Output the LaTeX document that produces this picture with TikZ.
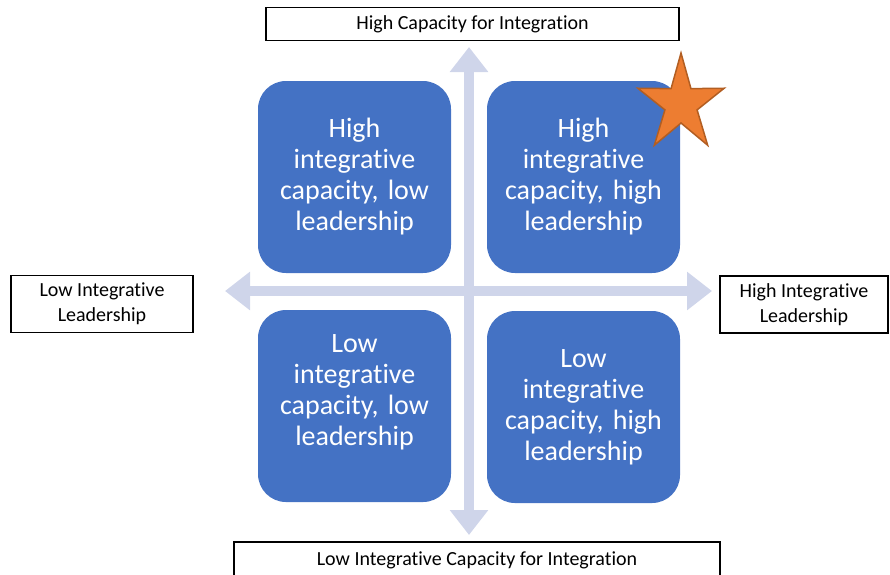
\documentclass[tikz,border=0pt]{standalone}
\usepackage{fontspec}
\setmainfont{Carlito}[Ligatures=NoCommon]
\usetikzlibrary{arrows.meta}

\definecolor{quadblue}{HTML}{4472C4}
\definecolor{crossgray}{HTML}{CFD5EA}
\definecolor{starorange}{HTML}{ED7D31}
\definecolor{stardark}{HTML}{B25E22}

\tikzset{
  quad/.style={fill=quadblue, rounded corners=28pt, minimum width=193pt,
    minimum height=192pt, inner sep=0pt, text width=180pt, align=center,
    text=white, font=\fontsize{28}{31}\selectfont},
  axislabel/.style={draw=black, line width=1.6pt, inner sep=0pt, align=center,
    font=\fontsize{20}{25}\selectfont},
  axisarrow/.style={crossgray, line width=10pt,
    {Triangle[width=37pt,length=25pt]}-{Triangle[width=37pt,length=25pt]}}
}

\begin{document}
\begin{tikzpicture}[x=1pt,y=-1pt]
\useasboundingbox (0,0) rectangle (890,574);
\clip (0,0) rectangle (890,574);

% ends of the two axes
\coordinate (up) at (469,47);
\coordinate (down) at (469,535);
\coordinate (left) at (225,291);
\coordinate (right) at (712,291);
\draw[axisarrow] (down) -- (up);
\draw[axisarrow] (left) -- (right);

% the four quadrants
\node[quad] (tl) at (354.5,177) {High\\integrative\\capacity, low\\leadership};
\node[quad] (tr) at (583.5,177) {High\\integrative\\capacity, high\\leadership};
\node[quad] (bl) at (354.5,406) {Low\\integrative\\capacity, low\\leadership\\\mbox{}};
\node[quad] (br) at (583.5,407) {Low\\integrative\\capacity, high\\leadership};

% axis labels
\node[axislabel, minimum width=413pt, minimum height=33pt] (top) at (472.5,24) {High Capacity for Integration};
\node[axislabel, minimum width=486pt, minimum height=36pt] (bottom) at (477,560) {Low Integrative Capacity for Integration};
\node[axislabel, minimum width=182pt, minimum height=57pt] (lowlead) at (102,304) {Low Integrative\\Leadership};
\node[axislabel, line width=2.2pt, minimum width=168pt, minimum height=57pt] (highlead) at (804,304.5) {High Integrative\\Leadership};

% star on the top right quadrant
\draw[fill=starorange, draw=stardark, line width=1.5pt, line join=miter, shift={(681,104)}, xscale=0.89]
  (-90:51) -- (-54:19) -- (-18:51) -- (18:19) -- (54:51) -- (90:19)
  -- (126:51) -- (162:19) -- (198:51) -- (234:19) -- cycle;
\end{tikzpicture}
\end{document}
